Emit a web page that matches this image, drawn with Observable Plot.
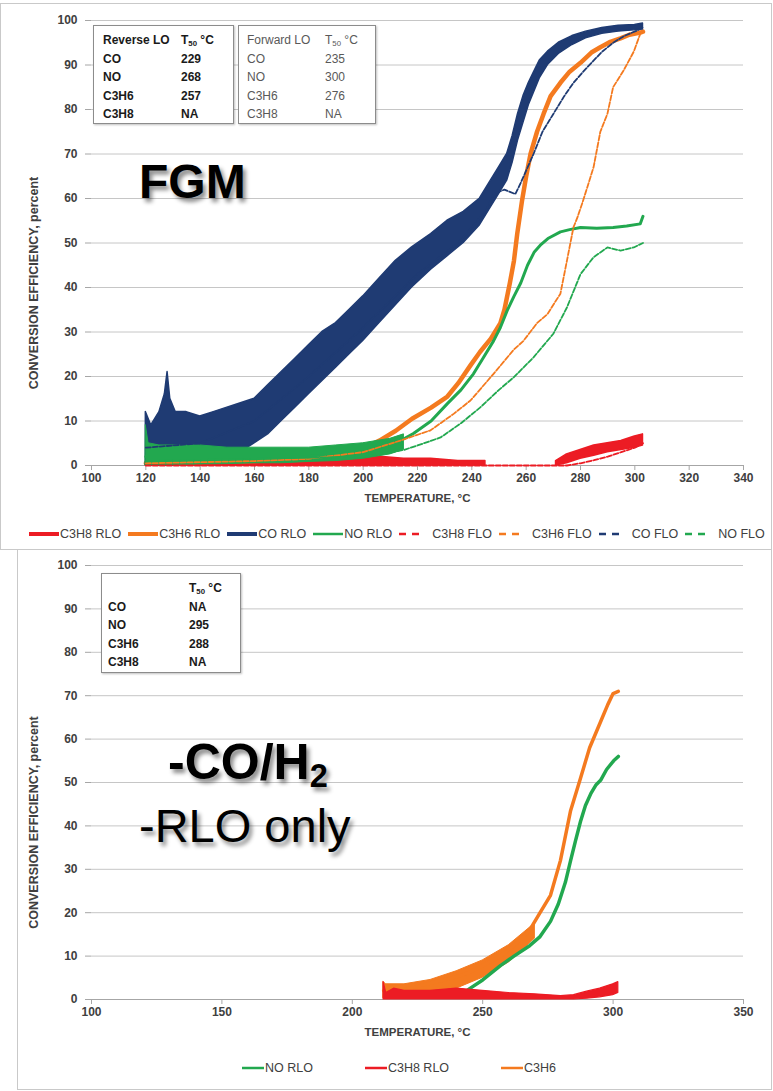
<!DOCTYPE html>
<html><head><meta charset="utf-8">
<script src="https://cdn.jsdelivr.net/npm/d3@7"></script>
<script src="https://cdn.jsdelivr.net/npm/@observablehq/plot@0.6"></script>
<style>
body{margin:0;background:#fff;}
#page{position:relative;width:773px;height:1091px;overflow:hidden;font-family:"Liberation Sans",Arial,sans-serif;color:#404040;background:#fff;}
.panel{position:absolute;border:1px solid #c9c9c9;box-sizing:border-box;}
.tbl{position:absolute;border:1.5px solid #8c8c8c;box-sizing:border-box;background:#fff;box-shadow:1px 1px 2px rgba(0,0,0,0.25);}
.tbl table{border-collapse:collapse;font-size:12px;line-height:18.6px;}
.tbl td{padding:0;white-space:nowrap;}
.big{position:absolute;font-family:"Liberation Sans",Arial,sans-serif;color:#000;text-shadow:3px 4px 4px rgba(0,0,0,0.45);line-height:1;white-space:nowrap;}
.legend{position:absolute;display:flex;align-items:center;font-size:12.5px;color:#404040;white-space:nowrap;}
.legend .item{display:flex;align-items:center;}
.legend svg{display:block;}
sub{font-size:0.65em;vertical-align:-0.25em;line-height:0;}
</style></head><body><div id="page"></div>
<script>
// ---------- tick labels ----------
const tempTicksTop = [100,120,140,160,180,200,220,240,260,280,300,320,340];
const tempTicksBottom = [100,150,200,250,300,350];
const effTicks = [0,10,20,30,40,50,60,70,80,90,100];

// ---------- T50 tables ----------
const gases = ["CO","NO","C3H6","C3H8"];
const reverseT50 = ["229","268","257","NA"];
const forwardT50 = ["235","300","276","NA"];
const rloOnlyT50 = ["NA","295","288","NA"];

// ---------- legends ----------
const topLegendNames = ["C3H8 RLO","C3H6 RLO","CO RLO","NO RLO","C3H8 FLO","C3H6 FLO","CO FLO","NO FLO"];
const bottomLegendNames = ["NO RLO","C3H8 RLO","C3H6"];

// ---------- top chart (FGM) series ----------
// CO RLO : noisy band (low / high envelope)
const coRloT  = [120,122,125,127,128,129,131,135,140,145,150,155,160,165,170,175,180,185,190,195,200,206,212,218,225,231,237,243,247,250,253,255,257,259,261,263,265,268,272,277,282,288,294,300,303];
const coRloLo = [0,0,0,0,0,0,0,1,1,1,2,3,5,7,10,13,16,19,22,25,28,32,36,40,44,47,50,54,58,61,64,68,73,77,81,84,87,90,92.5,94.5,96,97,97.5,97.8,98];
const coRloHi = [12,9,12,16,21,15,12,12,11,12,13,14,15,18,21,24,27,30,32,35,38,42,46,49,52,55,57,60,64,67,70,74,79,83,86,88.5,91,93,95,96.5,97.5,98.3,98.8,99,99.3];
// CO FLO
const coFloT = [120,140,160,180,200,220,235,245,248,252,256,258,262.7,266,270,274,277.4,281,284.8,288,292,296,301,303];
const coFloV = [4,5,10,20,31,43,50,57,61,62,61,63.5,70,75,79,83,86,88.5,91,93,95,96.5,97.8,98.5];
// C3H6 RLO
const c3h6RloT = [120,140,160,180,190,200,206,212,218,225,231,235,239.5,243,247,250.5,252,254,255.5,256.7,258.5,260,261.6,264,266.4,269,272.6,276,280,284,287.3,291,294.7,298,302,303];
const c3h6RloV = [0.5,0.8,1,1.5,2.2,3.8,5.6,7.8,10.5,13,15.5,18.5,22.5,25.5,28.5,32,35,41,46,52,59.6,65,70,75,79,83,86,88.5,90.5,92.8,94,95.2,96,96.8,97.3,97.5];
// C3H6 FLO
const c3h6FloT = [120,160,180,200,213.7,224.8,233.3,239.5,248,255.4,259,264,267.8,272.6,275,277.4,278.9,281,284.8,287.3,289.9,292,295.9,299.6,302,303];
const c3h6FloV = [0.5,1,1.5,3,5.6,7.9,11.6,14.6,20.6,26,28,32,34,38.6,46,53.5,55.8,59.6,67,75,79,85,88.8,93,97,97.5];
// NO RLO
const noRloT = [120,130,140,150,160,170,180,190,195,200,206,212,218.5,225,231,236,240.6,244,248,250.5,253,255.5,258,260.5,263,265.2,268,272.6,276,280,286,292,297,302,303];
const noRloV = [2,2,2,2,2,2,2,2.2,2.5,3,3.4,5,7.2,10,13.9,17,20.6,24,28,31,34.8,38,41,45,48,49.5,51,52.5,53,53.5,53.3,53.5,53.8,54.3,56];
const noRloNoiseT  = [120,121,125,130,140,150,160,170,180,190,200,210,215];
const noRloNoiseLo = [0,0,0,0,0.2,0.3,0.5,0.5,0.8,1,1.5,2.5,3.5];
const noRloNoiseHi = [9,5,4.5,4.5,4.5,4,4,4,4,4.5,5,6,7];
// NO FLO
const noFloT = [120,160,200,215,220,228.5,236,243,250,255.4,262.7,270,275,280,284.8,289.9,294.7,299.6,303];
const noFloV = [1,1.5,2,3.5,4.5,6.3,9.5,13,17,19.8,24.3,29.6,35.5,43,46.8,49,48.3,49,50];
// C3H8 RLO (band, gap between 247 and 271)
const c3h8RloT  = [120,150,180,197,205,215,225,235,245,247,271,275,280,285,290,295,300,303];
const c3h8RloLo = [0,0,0,0,0,0,0,0,0,null,0,0.5,1.5,2.2,3,3.5,4,4.5];
const c3h8RloHi = [0.8,0.8,0.8,1.5,2,1.5,1.5,1,1,null,1,2.5,3.5,4.5,5,5.5,6.5,7];
// C3H8 FLO
const c3h8FloT = [120,275,280,285,290,295,300,303];
const c3h8FloV = [0,0,0.5,1.2,2,3,4,5];

// ---------- bottom chart (-CO/H2, RLO only) ----------
const bC3h6T = [212,215,220,226,230,235,241.5,245,250,256.8,260,265,268,272,276,279.8,283.7,287.5,291,295.2,298,300,302];
const bC3h6V = [2,2,2.3,3.2,3.8,4.5,5.5,6.3,7.8,10,11.5,14,16,20,24,32,43.5,51,58,64,68,70.5,71];
const bC3h6NoiseT  = [212,213,220,230,240,250,260,270];
const bC3h6NoiseLo = [0.3,0.5,1,1.5,2.5,5,8.5,14];
const bC3h6NoiseHi = [4,3.5,3.5,4.5,6.5,9,12.5,17.5];
const bNoT = [238,241.5,245,250,256.8,262,268,272,276,279,281.7,283.7,285.6,287.5,289.4,291.5,293.5,295.2,297.5,300.2,302];
const bNoV = [0.5,1,2.5,4.5,7.8,10,12.4,14.5,18,22,27,32,36.6,41,44.7,47.5,49.5,50.5,53,55,56];
const bC3h8T  = [212,213,216,220,230,240,250,260,270,280,285,290,295,300,302];
const bC3h8Lo = [0,0,0,0,0,0,0,0,0,0,0,0.2,0.5,1,1.5];
const bC3h8Hi = [4,1.5,2.5,2,2,2.5,2,1.5,1.2,0.8,1,1.8,2.5,3.5,4];

// ---------- colours ----------
const navy = "#1f3b73", orange = "#f47a1f", green = "#22a84f", red = "#ec1c24";
const topLegendColors = [red, orange, navy, green, red, orange, navy, green];
const bottomLegendColors = [green, red, orange];

// ---------- helpers ----------
const pts = (t, v) => t.map((x, i) => ({t: x, v: v[i]}));
const band = (t, lo, hi) => t.map((x, i) => ({t: x, lo: lo[i], hi: hi[i]}));
const fontFam = "'Liberation Sans', Arial, sans-serif";

function frame({xDomain, xTicks, height, marginTop, marginBottom, series}) {
  return Plot.plot({
    width: 773, height, marginLeft: 91, marginRight: 30, marginTop, marginBottom,
    x: {domain: xDomain}, y: {domain: [0, 100]},
    style: {fontFamily: fontFam, background: "transparent", color: "#404040", overflow: "visible"},
    marks: [
      Plot.gridY(effTicks.filter(d => d > 0), {stroke: "#c6c6c6", strokeOpacity: 1}),
      Plot.axisY(effTicks, {tickSize: 6, tickPadding: 8, fontWeight: "bold", fontSize: 12, fill: "#404040", stroke: "#a6a6a6", label: null}),
      Plot.axisX(xTicks, {tickSize: 5, tickPadding: 3, fontWeight: "bold", fontSize: 12, fill: "#404040", stroke: "#a6a6a6", label: null}),
      Plot.ruleY([0], {stroke: "#a6a6a6"}),
      Plot.text(["CONVERSION EFFICIENCY, percent"], {frameAnchor: "left", textAnchor: "middle", dx: -58, dy: 40, rotate: -90, fontSize: 12.5, fontWeight: "bold", fill: "#404040", fontFamily: fontFam}),
      Plot.text(["TEMPERATURE, °C"], {frameAnchor: "bottom", dy: 36, fontSize: 11.5, fontWeight: "bold", fill: "#404040", fontFamily: fontFam}),
      ...series
    ]
  });
}

const topSeries = [
  Plot.areaY(band(c3h8RloT, c3h8RloLo, c3h8RloHi), {x: "t", y1: "lo", y2: "hi", fill: red, stroke: red, strokeWidth: 1.5}),
  Plot.lineY(pts(c3h6RloT, c3h6RloV), {x: "t", y: "v", stroke: orange, strokeWidth: 4.5}),
  Plot.areaY(band(coRloT, coRloLo, coRloHi), {x: "t", y1: "lo", y2: "hi", fill: navy, stroke: navy, strokeWidth: 1.5}),
  Plot.areaY(band(noRloNoiseT, noRloNoiseLo, noRloNoiseHi), {x: "t", y1: "lo", y2: "hi", fill: green, stroke: green, strokeWidth: 1}),
  Plot.lineY(pts(noRloT, noRloV), {x: "t", y: "v", stroke: green, strokeWidth: 3}),
  Plot.lineY(pts(c3h8FloT, c3h8FloV), {x: "t", y: "v", stroke: red, strokeWidth: 1.8, strokeDasharray: "5,2"}),
  Plot.lineY(pts(c3h6FloT, c3h6FloV), {x: "t", y: "v", stroke: orange, strokeWidth: 1.8, strokeDasharray: "5,2"}),
  Plot.lineY(pts(coFloT, coFloV), {x: "t", y: "v", stroke: navy, strokeWidth: 1.8, strokeDasharray: "5,2"}),
  Plot.lineY(pts(noFloT, noFloV), {x: "t", y: "v", stroke: green, strokeWidth: 1.8, strokeDasharray: "5,2"})
];

const bottomSeries = [
  Plot.areaY(band(bC3h6NoiseT, bC3h6NoiseLo, bC3h6NoiseHi), {x: "t", y1: "lo", y2: "hi", fill: orange, stroke: orange, strokeWidth: 1}),
  Plot.lineY(pts(bC3h6T, bC3h6V), {x: "t", y: "v", stroke: orange, strokeWidth: 3.5}),
  Plot.lineY(pts(bNoT, bNoV), {x: "t", y: "v", stroke: green, strokeWidth: 3.5}),
  Plot.areaY(band(bC3h8T, bC3h8Lo, bC3h8Hi), {x: "t", y1: "lo", y2: "hi", fill: red, stroke: red, strokeWidth: 1.2})
];

const page = document.getElementById("page");
function place(el, left, top) { el.style.position = "absolute"; el.style.left = left + "px"; el.style.top = top + "px"; page.appendChild(el); return el; }

// panel borders
const p1 = document.createElement("div"); p1.className = "panel"; p1.style.cssText += "left:0;top:3px;width:772px;height:547px;"; page.appendChild(p1);
const p2 = document.createElement("div"); p2.className = "panel"; p2.style.cssText += "left:17px;top:549px;width:755px;height:541px;"; page.appendChild(p2);

const topChart = frame({xDomain: [100, 340], xTicks: tempTicksTop, height: 510, marginTop: 20, marginBottom: 45, series: topSeries});
place(topChart, 0, 0);
const bottomChart = frame({xDomain: [100, 350], xTicks: tempTicksBottom, height: 495, marginTop: 15, marginBottom: 46, series: bottomSeries});
place(bottomChart, 0, 550);

// tables
function makeTable(left, top, width, height, header, values, opts) {
  const box = document.createElement("div");
  box.className = "tbl";
  box.style.cssText += `left:${left}px;top:${top}px;width:${width}px;height:${height}px;padding:${opts.padTop}px 0 0 ${opts.padLeft}px;`;
  const tb = document.createElement("table");
  tb.style.color = opts.color; tb.style.fontWeight = opts.weight;
  const rows = [[header, "T<sub>50</sub>\u00a0°C"], ...gases.map((g, i) => [g, values[i]])];
  tb.innerHTML = rows.map(r => `<tr><td style="width:${opts.col}px">${r[0]}</td><td>${r[1]}</td></tr>`).join("");
  box.appendChild(tb);
  page.appendChild(box);
}
makeTable(93, 25, 141, 99, "Reverse LO", reverseT50, {padTop: 5, padLeft: 9, col: 78, color: "#1a1a1a", weight: "bold"});
makeTable(238, 25, 138, 99, "Forward LO", forwardT50, {padTop: 5, padLeft: 8, col: 78, color: "#595959", weight: "normal"});
makeTable(101, 573, 140, 100, "", rloOnlyT50, {padTop: 5, padLeft: 6, col: 81, color: "#1a1a1a", weight: "bold"});

// big labels
const fgm = document.createElement("div"); fgm.className = "big"; fgm.style.cssText += "left:139px;top:158px;font-size:48px;font-weight:bold;"; fgm.textContent = "FGM"; page.appendChild(fgm);
const coh = document.createElement("div"); coh.className = "big"; coh.style.cssText += "left:168px;top:737px;font-size:50px;font-weight:bold;"; coh.innerHTML = "-CO/H<sub>2</sub>"; page.appendChild(coh);
const rlo = document.createElement("div"); rlo.className = "big"; rlo.style.cssText += "left:139px;top:802px;font-size:47px;font-weight:normal;"; rlo.textContent = "-RLO only"; page.appendChild(rlo);

// legends
function swatch(color, dashed, w, sw) {
  const ns = "http://www.w3.org/2000/svg";
  const s = document.createElementNS(ns, "svg"); s.setAttribute("width", w); s.setAttribute("height", 10);
  const l = document.createElementNS(ns, "line");
  l.setAttribute("x1", 0); l.setAttribute("x2", w); l.setAttribute("y1", 5); l.setAttribute("y2", 5);
  l.setAttribute("stroke", color); l.setAttribute("stroke-width", sw);
  if (dashed) l.setAttribute("stroke-dasharray", "7,6");
  s.appendChild(l); return s;
}
const lg1 = document.createElement("div"); lg1.className = "legend"; lg1.style.cssText += "left:29px;top:527px;";
topLegendNames.forEach((n, i) => {
  const dashed = n.endsWith("FLO");
  const it = document.createElement("div"); it.className = "item";
  it.style.marginRight = "7px";
  const sw = swatch(topLegendColors[i], dashed, dashed ? 23 : 30, i === 3 ? 2.5 : (dashed ? 2.5 : 4));
  sw.style.marginRight = dashed ? "10px" : "1px";
  it.appendChild(sw);
  const tx = document.createElement("span"); tx.textContent = n; it.appendChild(tx);
  lg1.appendChild(it);
});
page.appendChild(lg1);

const lg2 = document.createElement("div"); lg2.className = "legend"; lg2.style.cssText += "left:242px;top:1061px;";
bottomLegendNames.forEach((n, i) => {
  const it = document.createElement("div"); it.className = "item";
  it.style.marginRight = "52px";
  const sw = swatch(bottomLegendColors[i], false, 22, 2.5); sw.style.marginRight = "1px";
  it.appendChild(sw);
  const tx = document.createElement("span"); tx.textContent = n; it.appendChild(tx);
  lg2.appendChild(it);
});
page.appendChild(lg2);
</script></body></html>
